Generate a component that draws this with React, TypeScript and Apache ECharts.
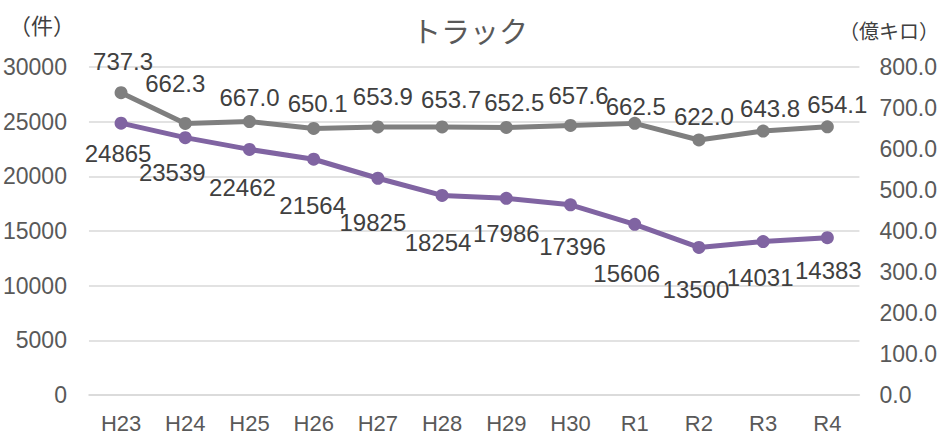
import React, { useEffect, useRef } from "react";
import * as echarts from "echarts";

const categories = ["H23", "H24", "H25", "H26", "H27", "H28", "H29", "H30", "R1", "R2", "R3", "R4"];
const countValues = [24865, 23539, 22462, 21564, 19825, 18254, 17986, 17396, 15606, 13500, 14031, 14383];
const tonKmValues = [737.3, 662.3, 667.0, 650.1, 653.9, 653.7, 652.5, 657.6, 662.5, 622.0, 643.8, 654.1];

const leftTicks = { min: 0, max: 30000, interval: 5000 };
const rightTicks = { min: 0, max: 800, interval: 100 };

// label placement tweaks (style only)
const countLabelShift: [number, number][] = [
  [-3, 30], [-13, 35], [-7, 38], [-1, 46], [-5, 44], [-4, 47],
  [0, 35], [2, 42], [-8, 49], [-3, 42], [-3, 36], [1, 33],
];
const tonKmLabelShift: [number, number][] = [
  [2, -31], [-10, -40], [0, -24], [4, -25], [5, -30], [9, -27],
  [8, -25], [8, -30], [1, -17], [5, -23], [7, -23], [10, -22],
];

const FONT = "'Liberation Sans', Arial, 'Noto Sans CJK JP', sans-serif";
const CJK = "'Noto Sans CJK JP', 'Liberation Sans', sans-serif";

export default function App() {
  const ref = useRef<HTMLDivElement>(null);
  useEffect(() => {
    if (!ref.current) return;
    const chart = echarts.init(ref.current, undefined, { renderer: "svg" });
    chart.setOption({
      animation: false,
      backgroundColor: "#ffffff",
      title: {
        text: "トラック",
        left: "center",
        top: 10,
        textStyle: { fontFamily: CJK, fontSize: 29, fontWeight: "normal", color: "#595959" },
      },
      graphic: [
        {
          type: "text",
          left: 9,
          top: 13,
          style: { text: "（件）", fontFamily: CJK, fontSize: 22, fill: "#404040" },
        },
        {
          type: "text",
          left: 839,
          top: 20,
          style: { text: "（億キロ）", fontFamily: CJK, fontSize: 20, fill: "#404040" },
        },
      ],
      grid: { left: 86, right: 78, top: 67, bottom: 39, containLabel: false },
      xAxis: {
        type: "category",
        data: categories,
        boundaryGap: true,
        axisLine: { show: true, lineStyle: { color: "#D9D9D9", width: 1.5 } },
        axisTick: { show: false },
        axisLabel: { color: "#595959", fontSize: 22, fontFamily: FONT, margin: 17 },
      },
      yAxis: [
        {
          type: "value",
          min: leftTicks.min,
          max: leftTicks.max,
          interval: leftTicks.interval,
          axisLine: { show: false },
          axisTick: { show: false },
          splitLine: { show: true, lineStyle: { color: "#D9D9D9", width: 1.5 } },
          axisLabel: {
            color: "#595959",
            fontSize: 23,
            fontFamily: FONT,
            margin: 22,
            formatter: (v: number) => String(v),
          },
        },
        {
          type: "value",
          position: "right",
          min: rightTicks.min,
          max: rightTicks.max,
          interval: rightTicks.interval,
          axisLine: { show: false },
          axisTick: { show: false },
          splitLine: { show: false },
          axisLabel: {
            color: "#595959",
            fontSize: 23,
            fontFamily: FONT,
            margin: 20,
            formatter: (v: number) => v.toFixed(1),
          },
        },
      ],
      series: [
        {
          name: "件数",
          type: "line",
          yAxisIndex: 0,
          data: countValues.map((v, i) => ({
            value: v,
            label: { offset: countLabelShift[i] },
          })),
          symbol: "circle",
          symbolSize: 13,
          lineStyle: { color: "#8064A2", width: 5 },
          itemStyle: { color: "#8064A2" },
          z: 3,
          label: {
            show: true,
            position: "inside",
            color: "#404040",
            fontSize: 24,
            fontFamily: FONT,
            align: "center",
            verticalAlign: "middle",
          },
        },
        {
          name: "億キロ",
          type: "line",
          yAxisIndex: 1,
          data: tonKmValues.map((v, i) => ({
            value: v,
            label: { offset: tonKmLabelShift[i] },
          })),
          symbol: "circle",
          symbolSize: 13,
          lineStyle: { color: "#7F7F7F", width: 5 },
          itemStyle: { color: "#7F7F7F" },
          z: 2,
          label: {
            show: true,
            position: "inside",
            color: "#404040",
            fontSize: 24,
            fontFamily: FONT,
            align: "center",
            verticalAlign: "middle",
            formatter: (p: any) => Number(p.value).toFixed(1),
          },
        },
      ],
    });
    return () => chart.dispose();
  }, []);
  return (
    <div
      ref={ref}
      style={{ position: "fixed", left: 0, top: 0, width: 940, height: 434 }}
    />
  );
}
